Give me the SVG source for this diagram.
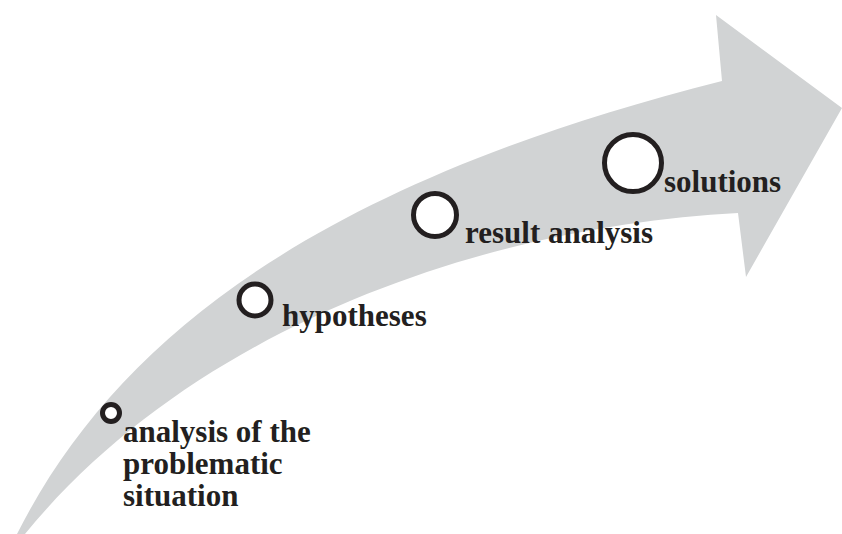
<svg xmlns="http://www.w3.org/2000/svg" width="842" height="534" viewBox="0 0 842 534">
<style>
.arrow{fill:#d1d3d4;stroke:none}
.dot{fill:#ffffff;stroke:#231f20;stroke-width:5}
.lbl{font-family:"Liberation Serif","Times New Roman",serif;font-weight:bold;font-size:31px;fill:#231f20}
</style>
<rect width="842" height="534" fill="#ffffff"/>
<g id="arrow">
<path class="arrow" d="M 17,534 C 120,330 330,180 722,81 L 716,15 L 842,108 L 746,277 L 738,213 C 500,225 200,320 25,534 Z"/>
</g>
<g id="node-analysis">
<circle class="dot" cx="111" cy="413" r="8.5"/>
<text class="lbl"><tspan x="123" y="442">analysis of the</tspan><tspan x="123" y="474">problematic</tspan><tspan x="123" y="506">situation</tspan></text>
</g>
<g id="node-hypotheses">
<circle class="dot" cx="255" cy="300" r="16"/>
<text class="lbl" x="282" y="326">hypotheses</text>
</g>
<g id="node-result">
<circle class="dot" cx="435" cy="215" r="21.5"/>
<text class="lbl" x="465" y="243">result analysis</text>
</g>
<g id="node-solutions">
<circle class="dot" cx="633" cy="163" r="28.5"/>
<text class="lbl" x="664" y="192">solutions</text>
</g>
<g id="connectors"/>
</svg>
